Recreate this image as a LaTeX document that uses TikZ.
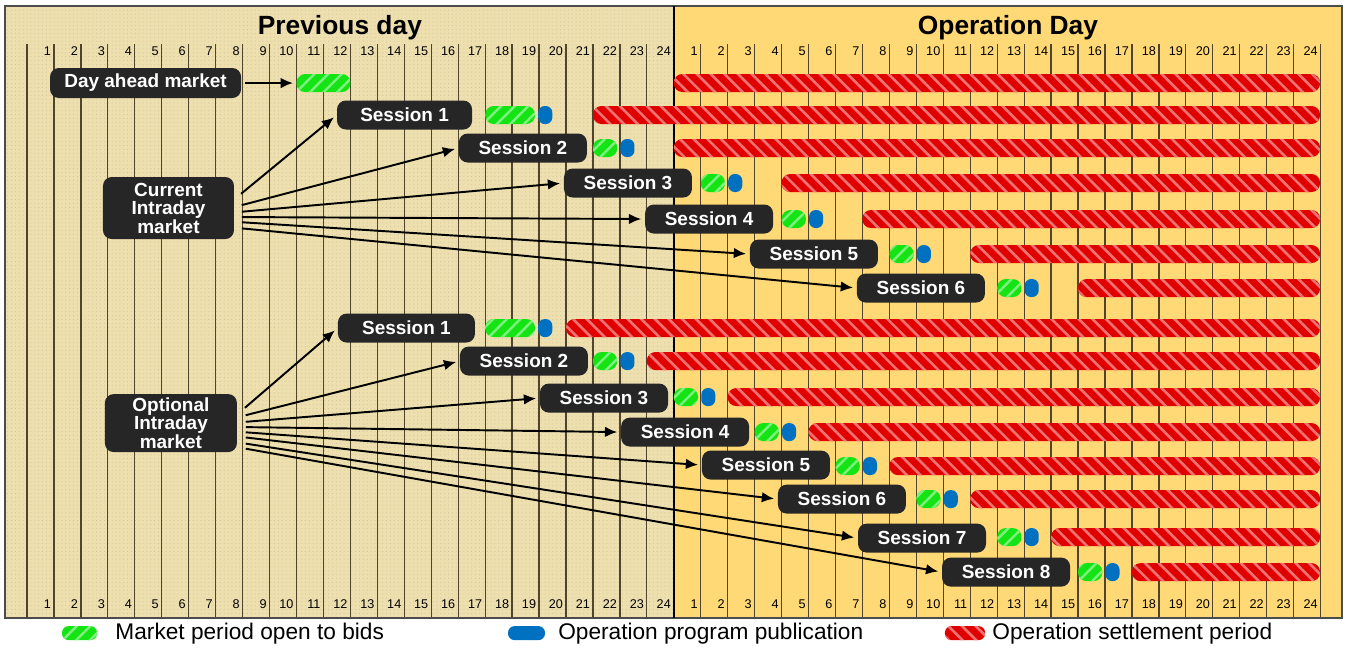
\documentclass[tikz,border=0pt]{standalone}
\usepackage{fontspec}
\setmainfont{Liberation Sans}
\usetikzlibrary{patterns.meta,arrows.meta}

\definecolor{prevday}{RGB}{238,223,175}
\definecolor{opday}{RGB}{255,217,117}
\definecolor{boxdark}{RGB}{38,38,38}
\definecolor{bidgreen}{RGB}{20,228,20}
\definecolor{pubblue}{RGB}{0,112,192}
\definecolor{settlered}{RGB}{225,0,0}
\definecolor{gridbrown}{RGB}{80,68,45}

\tikzset{
  mkt/.style={fill=boxdark, text=white, rounded corners=5pt, align=center,
    font=\fontsize{10.8}{10.5}\selectfont\bfseries, inner sep=0pt, minimum height=0.58cm},
  sess/.style={mkt, minimum width=2.56cm},
  greenbar/.style={preaction={fill=bidgreen}, pattern={Lines[angle=45,distance=5.5pt,line width=1.4pt]},
    pattern color=white!45!bidgreen, rounded corners=0.17cm},
  bluebar/.style={fill=pubblue, rounded corners=0.13cm},
  redbar/.style={preaction={fill=settlered}, pattern={Lines[angle=-45,distance=5.5pt,line width=1.5pt]},
    pattern color=white!45!settlered, rounded corners=0.17cm},
  arr/.style={->, line width=1.1pt, shorten >=2pt, shorten <=2pt},
  hour/.style={font=\fontsize{7.2}{8}\selectfont, anchor=base east, inner sep=1.5pt},
}

% y, green start, green end, red start
\newcommand{\rowbars}[4]{%
  \path[greenbar] (#2,#1-9) rectangle (#3,#1+9);
  \path[bluebar] (#3+0.12,#1-9) rectangle (#3+0.64,#1+9);
  \path[redbar] (#4,#1-9) rectangle (47.98,#1+9);
}

\begin{document}
\begin{tikzpicture}[x=0.539cm, y=-0.02cm, >={Latex[length=7pt,width=6pt]}]
  \useasboundingbox (-1.002,0) rectangle (48.98,648);

  % the two days
  \fill[prevday] (-0.816,6) rectangle (24,618);
  \fill[pattern={Dots[distance=2.2pt,radius=0.3pt]}, pattern color=prevday!88!black] (-0.816,6) rectangle (24,618);
  \fill[opday] (24,6) rectangle (48.79,618);
  \foreach \k in {0,...,48} \draw[gridbrown, line width=0.7pt] (\k,44) -- (\k,618);
  \draw[gray!60!black, line width=1pt] (-0.816,6) rectangle (48.79,618);
  \draw[black, line width=0.8pt] (24,6) -- (24,618);

  \node[font=\fontsize{15}{18}\selectfont\bfseries] (prevtitle) at (11.61,28) {Previous day};
  \node[font=\fontsize{15}{18}\selectfont\bfseries] (optitle) at (36.4,28) {Operation Day};

  % hour numbers
  \foreach \k in {1,...,24} {
    \node[hour] (pt\k) at (\k,55) {\k};
    \node[hour] (ot\k) at (24+\k,55) {\k};
    \node[hour] (pb\k) at (\k,608) {\k};
    \node[hour] (ob\k) at (24+\k,608) {\k};
  }

  % day ahead market
  \node[mkt, minimum width=3.82cm, minimum height=0.6cm] (da) at (4.40,83) {Day ahead market};
  \coordinate (dabid) at (10,83);
  \path[greenbar] (10,74) rectangle (12,92);
  \path[redbar] (24,74) rectangle (47.98,92);
  \draw[arr] (da) -- (dabid);

  % current intraday market
  \node[mkt, minimum width=2.62cm, minimum height=1.24cm] (cur) at (5.25,208) {Current\\Intraday\\market};
  \node[sess, minimum width=2.7cm] (c1) at (14.01,115) {Session 1};
  \node[sess] (c2) at (18.40,148) {Session 2};
  \node[sess] (c3) at (22.30,183) {Session 3};
  \node[sess] (c4) at (25.31,219) {Session 4};
  \node[sess] (c5) at (29.20,254) {Session 5};
  \node[sess] (c6) at (33.17,288) {Session 6};
  \rowbars{115}{17}{18.85}{21}
  \rowbars{148}{21}{21.9}{24}
  \rowbars{183}{25}{25.9}{28}
  \rowbars{219}{28}{28.9}{31}
  \rowbars{254}{32}{32.9}{35}
  \rowbars{288}{36}{36.9}{39}
  \draw[arr] ([xshift=0.08cm,yshift=0.24cm]cur.east) -- (c1.west);
  \draw[arr] ([xshift=0.08cm,yshift=0.04cm]cur.east) -- (c2.west);
  \draw[arr] ([xshift=0.08cm,yshift=-0.08cm]cur.east) -- (c3.west);
  \draw[arr] ([xshift=0.08cm,yshift=-0.18cm]cur.east) -- (c4.west);
  \draw[arr] ([xshift=0.08cm,yshift=-0.28cm]cur.east) -- (c5.west);
  \draw[arr] ([xshift=0.08cm,yshift=-0.40cm]cur.east) -- (c6.west);

  % optional intraday market
  \node[mkt, minimum width=2.64cm, minimum height=1.16cm] (opt) at (5.34,423) {Optional\\Intraday\\market};
  \node[sess, minimum width=2.74cm] (o1) at (14.08,328) {Session 1};
  \node[sess] (o2) at (18.44,361) {Session 2};
  \node[sess] (o3) at (21.41,398) {Session 3};
  \node[sess] (o4) at (24.42,432) {Session 4};
  \node[sess] (o5) at (27.42,465) {Session 5};
  \node[sess] (o6) at (30.24,499) {Session 6};
  \node[sess] (o7) at (33.21,538) {Session 7};
  \node[sess] (o8) at (36.33,572) {Session 8};
  \rowbars{328}{17}{18.85}{20}
  \rowbars{361}{21}{21.9}{23}
  \rowbars{397}{24}{24.9}{26}
  \rowbars{432}{27}{27.9}{29}
  \rowbars{466}{30}{30.9}{32}
  \rowbars{499}{33}{33.9}{35}
  \rowbars{537}{36}{36.9}{38}
  \rowbars{572}{39}{39.9}{41}
  \draw[arr] ([xshift=0.1cm,yshift=0.26cm]opt.east) -- (o1.west);
  \draw[arr] ([xshift=0.1cm,yshift=0.14cm]opt.east) -- (o2.west);
  \draw[arr] ([xshift=0.1cm,yshift=0.02cm]opt.east) -- (o3.west);
  \draw[arr] ([xshift=0.1cm,yshift=-0.08cm]opt.east) -- (o4.west);
  \draw[arr] ([xshift=0.1cm,yshift=-0.18cm]opt.east) -- (o5.west);
  \draw[arr] ([xshift=0.1cm,yshift=-0.28cm]opt.east) -- (o6.west);
  \draw[arr] ([xshift=0.1cm,yshift=-0.40cm]opt.east) -- (o7.west);
  \draw[arr] ([xshift=0.1cm,yshift=-0.50cm]opt.east) -- (o8.west);

  % legend
  \path[greenbar, rounded corners=0.13cm] (1.30,626) rectangle (2.60,640);
  \node[anchor=west, font=\fontsize{12.9}{14}\selectfont, inner sep=0pt] (lgbid) at (3.27,634) {Market period open to bids};
  \path[bluebar] (17.85,626) rectangle (19.22,640);
  \node[anchor=west, font=\fontsize{12.9}{14}\selectfont, inner sep=0pt] (lgpub) at (19.70,634) {Operation program publication};
  \path[redbar, rounded corners=0.13cm] (34.06,626) rectangle (35.55,640);
  \node[anchor=west, font=\fontsize{12.9}{14}\selectfont, inner sep=0pt] (lgset) at (35.81,634) {Operation settlement period};
\end{tikzpicture}
\end{document}
